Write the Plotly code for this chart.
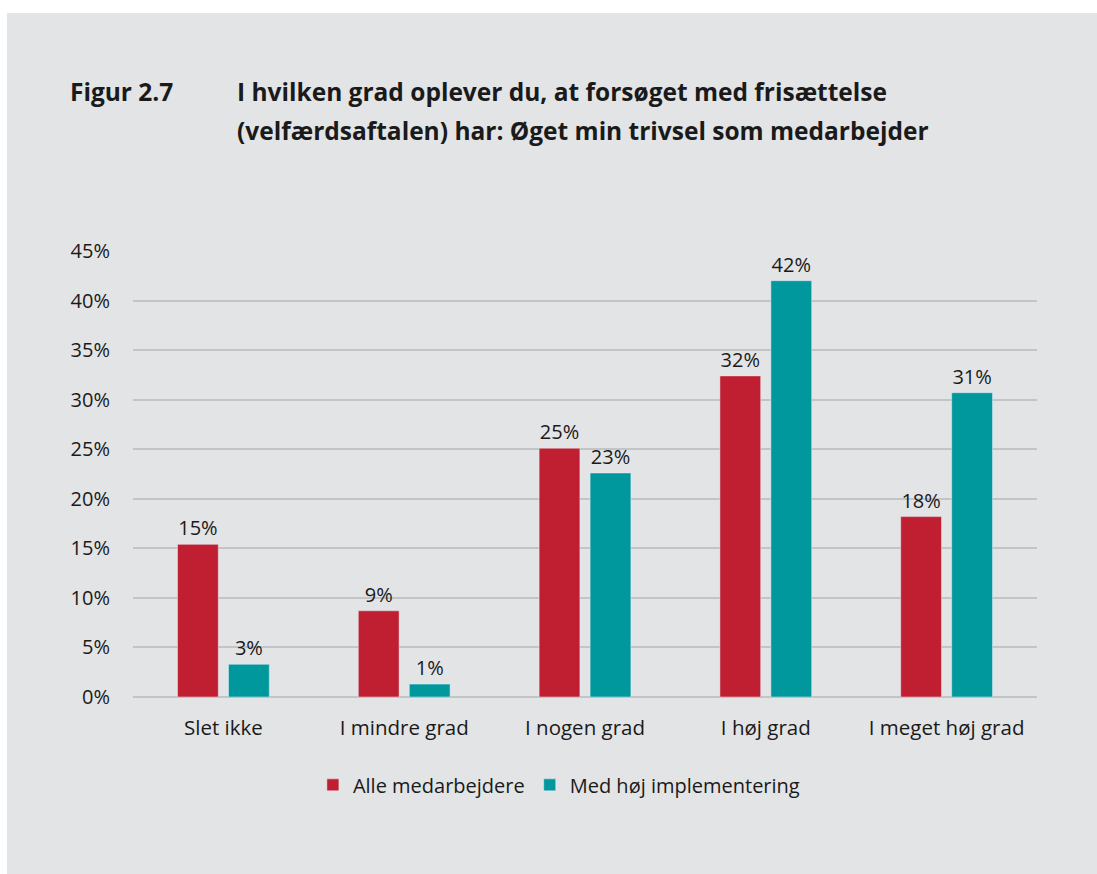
import plotly.graph_objects as go


# ----------------------------------------
# Data
# ----------------------------------------

categories = [
    "Slet ikke",
    "I mindre grad",
    "I nogen grad",
    "I høj grad",
    "I meget høj grad"
]

alle_medarbejdere = [15.4, 8.7, 25.1, 32.4, 18.2]

med_hoej_implementering = [3.3, 1.3, 22.6, 42.0, 30.7]

y_ticks = [0, 5, 10, 15, 20, 25, 30, 35, 40, 45]

y_tick_labels = ["0%", "5%", "10%", "15%", "20%", "25%", "30%", "35%", "40%", "45%"]

title_line_1 = "I hvilken grad oplever du, at forsøget med frisættelse"
title_line_2 = "(velfærdsaftalen) har: Øget min trivsel som medarbejder"

RED = "#c01f31"
TEAL = "#00979d"
BG = "#e3e4e6"
FONT = "Open Sans"
TEXT = "#1a1a1a"


# ----------------------------------------
# Figure
# ----------------------------------------

fig = go.Figure()

fig.add_trace(go.Bar(
    x=categories,
    y=alle_medarbejdere,
    name="Alle medarbejdere",
    marker=dict(color=RED),
    texttemplate="%{y:.0f}%",
    textposition="outside",
    textfont=dict(size=20, color=TEXT),
    cliponaxis=False
))

fig.add_trace(go.Bar(
    x=categories,
    y=med_hoej_implementering,
    name="Med høj implementering",
    marker=dict(color=TEAL),
    texttemplate="%{y:.0f}%",
    textposition="outside",
    textfont=dict(size=20, color=TEXT),
    cliponaxis=False
))

fig.update_layout(

    width=1097,
    height=874,

    paper_bgcolor=BG,
    plot_bgcolor=BG,

    font=dict(
        family=FONT,
        size=20,
        color=TEXT
    ),

    barmode="group",
    bargap=0.436,
    bargroupgap=0.2,

    margin=dict(
        l=133,
        r=60,
        t=251,
        b=177
    ),

    showlegend=True,

    legend=dict(
        orientation="h",
        x=0.199,
        xanchor="left",
        y=-0.197,
        yanchor="middle",
        font=dict(size=20),
        bgcolor="rgba(0,0,0,0)",
        itemwidth=30,
        traceorder="normal"
    )
)

fig.update_xaxes(
    showgrid=False,
    showline=False,
    ticks="",
    tickfont=dict(size=20.5),
    ticklabelstandoff=16
)

fig.update_yaxes(
    range=[0, 45],
    tickvals=y_ticks,
    ticktext=y_tick_labels,
    showgrid=True,
    gridcolor="#c3c4c6",
    gridwidth=1.5,
    zeroline=True,
    zerolinecolor="#c3c4c6",
    zerolinewidth=1.5,
    showline=False,
    ticks="",
    tickfont=dict(size=20),
    ticklabelstandoff=22
)

# white border above and left of the grey panel
fig.add_shape(
    type="rect",
    xref="paper",
    yref="paper",
    x0=-0.5,
    x1=1.5,
    y0=1.5336,
    y1=2.0,
    fillcolor="white",
    line=dict(width=0),
    layer="below"
)

fig.add_shape(
    type="rect",
    xref="paper",
    yref="paper",
    x0=-0.5,
    x1=-0.1394,
    y0=-0.5,
    y1=2.0,
    fillcolor="white",
    line=dict(width=0),
    layer="below"
)

# title
fig.add_annotation(
    text="<b>Figur 2.7</b>",
    xref="paper",
    yref="paper",
    x=-0.0719,
    xanchor="left",
    y=1.3587,
    yanchor="middle",
    showarrow=False,
    font=dict(size=24.5, color=TEXT)
)

fig.add_annotation(
    text="<b>" + title_line_1 + "</b>",
    xref="paper",
    yref="paper",
    x=0.1128,
    xanchor="left",
    y=1.3587,
    yanchor="middle",
    showarrow=False,
    font=dict(size=24.5, color=TEXT)
)

fig.add_annotation(
    text="<b>" + title_line_2 + "</b>",
    xref="paper",
    yref="paper",
    x=0.1128,
    xanchor="left",
    y=1.2713,
    yanchor="middle",
    showarrow=False,
    font=dict(size=24.5, color=TEXT)
)

fig.write_html(
    "out.html",
    config={"displayModeBar": False},
    post_script="document.body.style.margin='0';document.body.style.overflow='hidden';"
)
